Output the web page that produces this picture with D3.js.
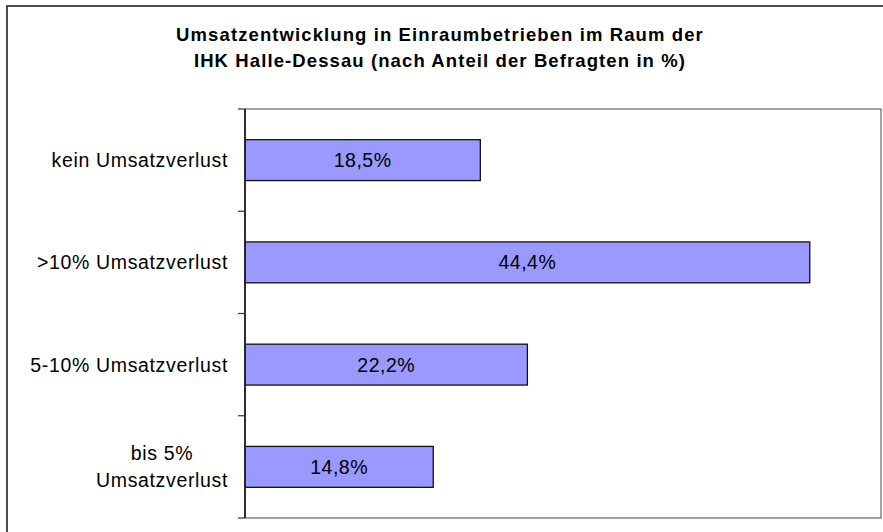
<!DOCTYPE html>
<html lang="de">
<head>
<meta charset="UTF-8">
<title>Umsatzentwicklung in Einraumbetrieben</title>
<script src="https://d3js.org/d3.v7.min.js"></script>
<style>
    body { margin: 0; padding: 0; background: #fff; overflow: hidden; }
    text { font-family: "Liberation Sans", Arial, sans-serif; fill: #000; }
    .title { font-size: 18.5px; font-weight: bold; letter-spacing: 1.1px; }
    .cat { font-size: 19.5px; letter-spacing: 0.65px; }
    .val { font-size: 19.5px; letter-spacing: 0.5px; }
</style>
</head>
<body>
<div id="chart"></div>
<script>
    // Daten
    const categories = ["kein Umsatzverlust", ">10% Umsatzverlust", "5-10% Umsatzverlust", "bis 5% Umsatzverlust"];
    const categoryLines = [["kein Umsatzverlust"], [">10% Umsatzverlust"], ["5-10% Umsatzverlust"], ["bis 5%", "Umsatzverlust"]];
    const values = [18.5, 44.4, 22.2, 14.8];
    const titleLines = ["Umsatzentwicklung in Einraumbetrieben im Raum der", "IHK Halle-Dessau (nach Anteil der Befragten in %)"];

    const W = 883, H = 532;
    const plot = { left: 245, top: 109, right: 881, bottom: 518 };

    const svg = d3.select("#chart").append("svg")
        .attr("width", W)
        .attr("height", H);

    // äußerer Rahmen
    svg.append("rect")
        .attr("x", 7).attr("y", 6)
        .attr("width", 900).attr("height", 600)
        .attr("fill", "#fff")
        .attr("stroke", "#222")
        .attr("stroke-width", 1.6);

    // Titel
    svg.selectAll(".title")
        .data(titleLines)
        .enter().append("text")
        .attr("class", "title")
        .attr("x", 440)
        .attr("y", (d, i) => 40.5 + i * 26)
        .attr("text-anchor", "middle")
        .text(d => d);

    // Skalen
    const x = d3.scaleLinear().domain([0, 50]).range([plot.left, plot.right]);
    const y = d3.scaleBand().domain(categories)
        .range([plot.top, plot.bottom])
        .paddingInner(0.6)
        .paddingOuter(0.3);

    // Plotbereich
    svg.append("rect")
        .attr("x", plot.left).attr("y", plot.top)
        .attr("width", plot.right - plot.left)
        .attr("height", plot.bottom - plot.top)
        .attr("fill", "#fff")
        .attr("stroke", "#666")
        .attr("stroke-width", 1.2);

    // Balken
    const fmt = d3.formatLocale({ decimal: ",", thousands: ".", grouping: [3], currency: ["", "€"] }).format(".1f");

    svg.selectAll(".bar")
        .data(values)
        .enter().append("rect")
        .attr("class", "bar")
        .attr("x", x(0))
        .attr("y", (d, i) => y(categories[i]))
        .attr("width", d => x(d) - x(0))
        .attr("height", y.bandwidth())
        .attr("fill", "#9999FF")
        .attr("stroke", "#111")
        .attr("stroke-width", 1.3);

    svg.selectAll(".val")
        .data(values)
        .enter().append("text")
        .attr("class", "val")
        .attr("x", d => (x(0) + x(d)) / 2)
        .attr("y", (d, i) => y(categories[i]) + y.bandwidth() / 2)
        .attr("dy", "0.36em")
        .attr("text-anchor", "middle")
        .text(d => fmt(d) + "%");

    // y-Achse mit Teilstrichen zwischen den Kategorien
    const boundaries = categories.map(c => y(c) - y.step() * y.paddingInner() / 2)
        .concat([plot.bottom]);
    boundaries[0] = plot.top;

    const axis = svg.append("g");
    axis.append("line")
        .attr("x1", plot.left).attr("x2", plot.left)
        .attr("y1", plot.top).attr("y2", plot.bottom)
        .attr("stroke", "#222").attr("stroke-width", 1.8);
    axis.selectAll(".tick")
        .data(boundaries)
        .enter().append("line")
        .attr("x1", plot.left - 7).attr("x2", plot.left)
        .attr("y1", d => d).attr("y2", d => d)
        .attr("stroke", "#333").attr("stroke-width", 1.2);

    // Kategorienbeschriftung
    const catG = svg.selectAll(".catg")
        .data(categoryLines)
        .enter().append("g")
        .attr("class", "catg");

    catG.each(function(lines, i) {
        const g = d3.select(this);
        const cy = y(categories[i]) + y.bandwidth() / 2;
        const lh = 27;
        const t = g.selectAll("text")
            .data(lines)
            .enter().append("text")
            .attr("class", "cat")
            .attr("x", 228)
            .attr("y", (d, j) => cy + (j - (lines.length - 1) / 2) * lh)
            .attr("dy", "0.36em")
            .attr("text-anchor", "end")
            .text(d => d);
        // mehrzeilige Beschriftung zentriert untereinander
        const widths = t.nodes().map(n => n.getComputedTextLength());
        const maxW = d3.max(widths);
        t.attr("x", (d, j) => 228 - (maxW - widths[j]) / 2);
    });
</script>
</body>
</html>
